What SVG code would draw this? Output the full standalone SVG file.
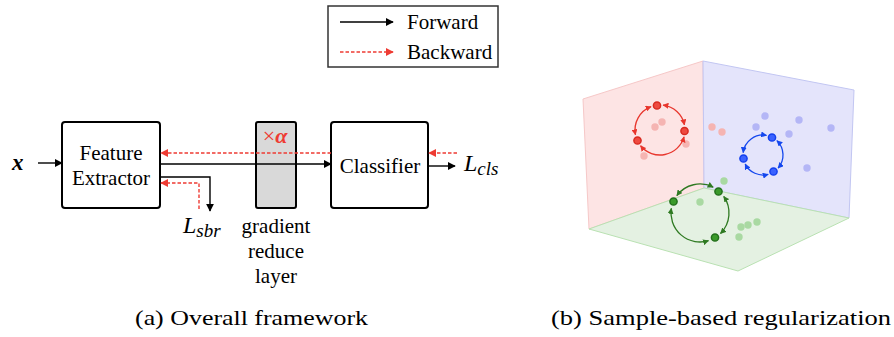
<svg xmlns="http://www.w3.org/2000/svg" width="894" height="337" viewBox="0 0 894 337">
<style>
  .box { fill: #fff; stroke: #000; stroke-width: 2; }
  .fw { fill: none; stroke: #000; stroke-width: 1.4; }
  .bw { fill: none; stroke: #ee3b33; stroke-width: 1.4; stroke-dasharray: 3.5 2; }
  .rarc { fill: none; stroke: #e8362d; stroke-width: 1.3; marker-start: url(#ar); marker-end: url(#ar); }
  .barc { fill: none; stroke: #1447ee; stroke-width: 1.3; marker-start: url(#ab); marker-end: url(#ab); }
  .garc { fill: none; stroke: #2f7a22; stroke-width: 1.3; marker-start: url(#ag); marker-end: url(#ag); }
  .rd { fill: #ee4a40; stroke: #d82a20; stroke-width: 1.5; }
  .bd { fill: #3a62ff; stroke: #1440ee; stroke-width: 1.5; }
  .gd { fill: #3a9a2a; stroke: #22701a; stroke-width: 1.5; }
  .rl { fill: #f5b4b2; }
  .bl { fill: #b4b6f6; }
  .gl { fill: #a9d9a2; }
</style>
<defs>
  <marker id="ak" viewBox="0 0 10 10" refX="9" refY="5" markerWidth="8" markerHeight="8" markerUnits="userSpaceOnUse" orient="auto">
    <path d="M0,0 L10,5 L0,10 z" fill="#000"/>
  </marker>
  <marker id="akr" viewBox="0 0 10 10" refX="9" refY="5" markerWidth="8" markerHeight="8" markerUnits="userSpaceOnUse" orient="auto">
    <path d="M0,0 L10,5 L0,10 z" fill="#ee3b33"/>
  </marker>
  <marker id="ar" viewBox="0 0 10 10" refX="9" refY="5" markerWidth="6" markerHeight="6" markerUnits="userSpaceOnUse" orient="auto-start-reverse">
    <path d="M0,0 L10,5 L0,10 z" fill="#e8362d"/>
  </marker>
  <marker id="ab" viewBox="0 0 10 10" refX="9" refY="5" markerWidth="6" markerHeight="6" markerUnits="userSpaceOnUse" orient="auto-start-reverse">
    <path d="M0,0 L10,5 L0,10 z" fill="#1447ee"/>
  </marker>
  <marker id="ag" viewBox="0 0 10 10" refX="9" refY="5" markerWidth="6" markerHeight="6" markerUnits="userSpaceOnUse" orient="auto-start-reverse">
    <path d="M0,0 L10,5 L0,10 z" fill="#2f7a22"/>
  </marker>
</defs>
<rect width="894" height="337" fill="#fff"/>

<g font-family="'Liberation Serif', 'Times New Roman', serif" fill="#000">
<g id="legend">
  <rect x="328" y="6" width="170" height="61" fill="#fff" stroke="#333" stroke-width="1.5"/>
  <line x1="340" y1="22" x2="393" y2="22" class="fw" marker-end="url(#ak)"/>
  <text x="407" y="29" font-size="21">Forward</text>
  <line x1="340" y1="52" x2="393" y2="52" class="bw" marker-end="url(#akr)"/>
  <text x="407" y="59" font-size="21">Backward</text>
</g>

<g id="input-x">
  <text x="12" y="170" font-size="23" font-style="italic" font-weight="bold">x</text>
</g>

<g id="feature-extractor">
  <rect x="62" y="122" width="98" height="86" rx="3" class="box"/>
  <text x="111" y="160" font-size="21" text-anchor="middle">Feature</text>
  <text x="111" y="185" font-size="21" text-anchor="middle">Extractor</text>
</g>

<g id="gradient-reduce-layer">
  <rect x="256" y="122" width="40" height="86" rx="2" fill="#d9d9d9" stroke="#000" stroke-width="2"/>
  <text x="275" y="143" font-size="22" text-anchor="middle" fill="#ee3b33"><tspan>×</tspan><tspan font-style="italic" font-weight="bold">α</tspan></text>
  <text x="276" y="233" font-size="21" text-anchor="middle">gradient</text>
  <text x="276" y="258" font-size="21" text-anchor="middle">reduce</text>
  <text x="276" y="283" font-size="21" text-anchor="middle">layer</text>
</g>

<g id="classifier">
  <rect x="331" y="122" width="97" height="86" rx="3" class="box"/>
  <text x="380" y="173" font-size="21" text-anchor="middle">Classifier</text>
</g>

<g id="loss-cls">
  <text x="464" y="171" font-size="24" font-style="italic">L<tspan font-size="19" dy="4">cls</tspan></text>
</g>

<g id="loss-sbr">
  <text x="183" y="233" font-size="24" font-style="italic">L<tspan font-size="19" dy="4">sbr</tspan></text>
</g>

<g id="captions">
  <text x="135" y="325" font-size="21" textLength="233" lengthAdjust="spacingAndGlyphs">(a) Overall framework</text>
  <text x="551" y="325" font-size="21" textLength="340" lengthAdjust="spacingAndGlyphs">(b) Sample-based regularization</text>
</g>
</g>

<g id="connectors">
  <line x1="38" y1="163" x2="62" y2="163" class="fw" marker-end="url(#ak)"/>
  <line x1="160" y1="164" x2="331" y2="164" class="fw" marker-end="url(#ak)"/>
  <line x1="331" y1="153" x2="161" y2="153" class="bw" marker-end="url(#akr)"/>
  <line x1="428" y1="166" x2="455" y2="166" class="fw" marker-end="url(#ak)"/>
  <line x1="457" y1="153" x2="429" y2="153" class="bw" marker-end="url(#akr)"/>
  <polyline points="160,177 210,177 210,211" class="fw" marker-end="url(#ak)"/>
  <polyline points="199,209 199,183 161,183" class="bw" marker-end="url(#akr)"/>
</g>

<g id="scene-3d">
  <polygon points="583,99 703,61 704,188 589,229" fill="#fde4e4" stroke="#f6c8c8" stroke-width="1"/>
  <polygon points="703,61 854,90 849,218 704,188" fill="#e4e4fb" stroke="#c2c6f2" stroke-width="1"/>
  <polygon points="589,229 704,188 849,218 738,271" fill="#e4f1e2" stroke="#b9e1b2" stroke-width="1"/>

  <g id="red-cluster">
    <circle cx="662" cy="122" r="3.7" class="rl"/>
    <circle cx="655" cy="127" r="3.7" class="rl"/>
    <circle cx="686" cy="144" r="3.7" class="rl"/>
    <circle cx="644" cy="156" r="3.7" class="rl"/>
    <circle cx="712" cy="127" r="3.7" class="rl"/>
    <circle cx="722" cy="132" r="3.7" class="rl"/>
    <path d="M663.05,105.19 A25,25 0 0 1 684.45,124.80" class="rarc"/>
    <path d="M684.03,136.89 A25,25 0 0 1 640.57,145.73" class="rarc"/>
    <path d="M635.46,134.77 A25,25 0 0 1 651.04,106.66" class="rarc"/>
    <circle cx="657" cy="105.5" r="3.6" class="rd"/>
    <circle cx="684.5" cy="131" r="3.6" class="rd"/>
    <circle cx="637.5" cy="140.5" r="3.6" class="rd"/>
  </g>

  <g id="blue-cluster">
    <circle cx="765" cy="116" r="3.7" class="bl"/>
    <circle cx="756" cy="127" r="3.7" class="bl"/>
    <circle cx="799" cy="120" r="3.7" class="bl"/>
    <circle cx="789" cy="134" r="3.7" class="bl"/>
    <circle cx="831" cy="128" r="3.7" class="bl"/>
    <circle cx="807" cy="168" r="3.7" class="bl"/>
    <path d="M776.89,140.61 A20,20 0 0 1 778.09,168.12" class="barc"/>
    <path d="M768.18,174.32 A20,20 0 0 1 745.18,164.08" class="barc"/>
    <path d="M743.15,152.56 A20,20 0 0 1 766.47,135.30" class="barc"/>
    <circle cx="772" cy="137.5" r="3.6" class="bd"/>
    <circle cx="773.5" cy="171.5" r="3.6" class="bd"/>
    <circle cx="743.5" cy="158.5" r="3.6" class="bd"/>
  </g>

  <g id="green-cluster">
    <circle cx="724" cy="181" r="3.7" class="gl"/>
    <circle cx="700" cy="202" r="3.7" class="gl"/>
    <circle cx="741" cy="227" r="3.7" class="gl"/>
    <circle cx="748" cy="225" r="3.7" class="gl"/>
    <circle cx="757" cy="222" r="3.7" class="gl"/>
    <circle cx="739" cy="237" r="3.7" class="gl"/>
    <path d="M676.84,195.55 A29,29 0 0 1 713.17,187.16" class="garc"/>
    <path d="M723.76,196.37 A29,29 0 0 1 720.51,233.51" class="garc"/>
    <path d="M708.48,240.73 A29,29 0 0 1 671.36,208.46" class="garc"/>
    <circle cx="673.5" cy="201.5" r="3.6" class="gd"/>
    <circle cx="718.5" cy="191.5" r="3.6" class="gd"/>
    <circle cx="715" cy="237.5" r="3.6" class="gd"/>
  </g>
</g>
</svg>
